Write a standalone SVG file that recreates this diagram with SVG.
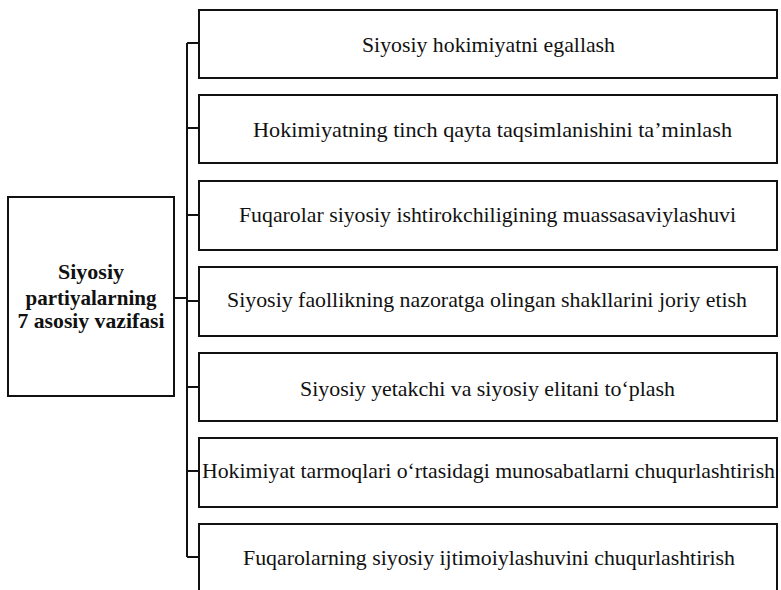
<svg xmlns="http://www.w3.org/2000/svg" width="781" height="590" viewBox="0 0 781 590">
<style>
.box{fill:#fff;stroke:#111;stroke-width:2}
.conn{fill:none;stroke:#111;stroke-width:2}
.t{font-family:"Liberation Serif","Times New Roman",serif;font-size:22px;fill:#111}
.tb{font-family:"Liberation Serif","Times New Roman",serif;font-size:22px;font-weight:bold;fill:#111;text-anchor:middle}
</style>
<rect x="0" y="0" width="781" height="590" fill="#fff"/>
<g id="connectors">
<path class="conn" d="M187 43 V557"/>
<path class="conn" d="M174 298 H187"/>
<path class="conn" d="M187 43 H199 M187 128 H199 M187 215 H199 M187 301 H199 M187 387 H199 M187 471 H199 M187 557 H199"/>
</g>
<g id="main">
<rect class="box" x="8" y="197" width="166" height="199"/>
<text class="tb" x="91" y="279" textLength="66" lengthAdjust="spacingAndGlyphs">Siyosiy</text>
<text class="tb" x="91" y="305" textLength="131" lengthAdjust="spacingAndGlyphs">partiyalarning</text>
<text class="tb" x="91" y="328" textLength="147" lengthAdjust="spacingAndGlyphs">7 asosiy vazifasi</text>
</g>
<g id="f1">
<rect class="box" x="199" y="10" width="578" height="68"/>
<text class="t" x="362" y="52" textLength="253" lengthAdjust="spacingAndGlyphs">Siyosiy hokimiyatni egallash</text>
</g>
<g id="f2">
<rect class="box" x="199" y="95" width="578" height="68"/>
<text class="t" x="253" y="137" textLength="479" lengthAdjust="spacingAndGlyphs">Hokimiyatning tinch qayta taqsimlanishini ta’minlash</text>
</g>
<g id="f3">
<rect class="box" x="199" y="181" width="578" height="69"/>
<text class="t" x="239" y="222" textLength="497" lengthAdjust="spacingAndGlyphs">Fuqarolar siyosiy ishtirokchiligining muassasaviylashuvi</text>
</g>
<g id="f4">
<rect class="box" x="199" y="267" width="578" height="69"/>
<text class="t" x="227" y="307" textLength="520" lengthAdjust="spacingAndGlyphs">Siyosiy faollikning nazoratga olingan shakllarini joriy etish</text>
</g>
<g id="f5">
<rect class="box" x="199" y="353" width="578" height="68"/>
<text class="t" x="300" y="396" textLength="375" lengthAdjust="spacingAndGlyphs">Siyosiy yetakchi va siyosiy elitani to‘plash</text>
</g>
<g id="f6">
<rect class="box" x="199" y="438" width="578" height="69"/>
<text class="t" x="202" y="478" textLength="573" lengthAdjust="spacingAndGlyphs">Hokimiyat tarmoqlari o‘rtasidagi munosabatlarni chuqurlashtirish</text>
</g>
<g id="f7">
<rect class="box" x="199" y="524" width="578" height="80"/>
<text class="t" x="243" y="565" textLength="492" lengthAdjust="spacingAndGlyphs">Fuqarolarning siyosiy ijtimoiylashuvini chuqurlashtirish</text>
</g>
</svg>
